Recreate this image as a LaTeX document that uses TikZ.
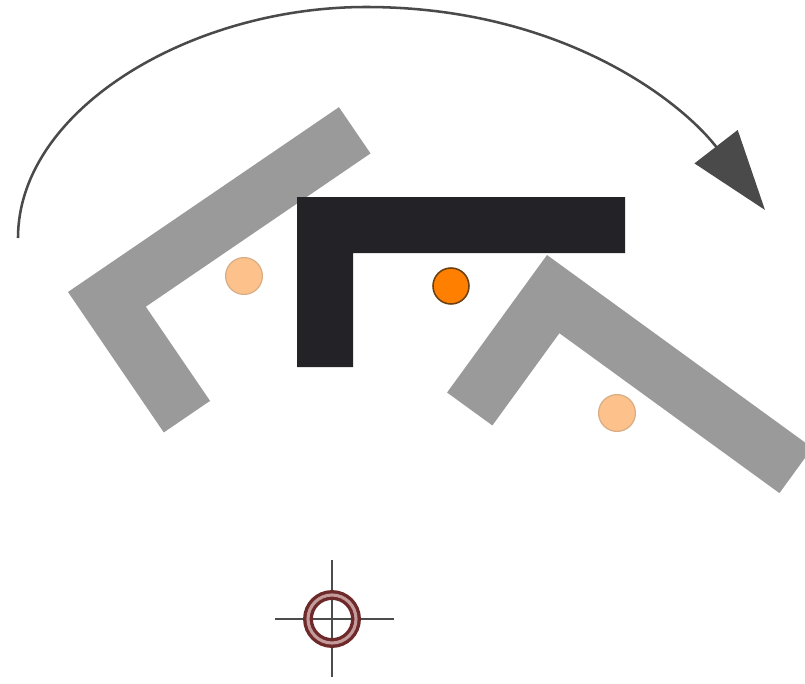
\documentclass[tikz,border=0pt]{standalone}
\usepackage{tikz}
\usetikzlibrary{arrows.meta}
\definecolor{DarkBar}{HTML}{232327}
\definecolor{GreyBar}{HTML}{9A9A9A}
\definecolor{Hot}{HTML}{FF8000}
\definecolor{HotRim}{HTML}{6B4010}
\definecolor{Pale}{HTML}{FDC28C}
\definecolor{PaleRim}{HTML}{D9AE86}
\definecolor{Swing}{HTML}{4A4A4A}
\definecolor{Ring}{HTML}{6E2A2A}
\definecolor{RingIn}{HTML}{C59A9A}
\tikzset{
    lbar/.pic={\fill[#1] (0,0) -- (328,0) -- (328,56) -- (56,56) -- (56,170) -- (0,170) -- cycle;},
    hotspot/.style={circle, draw=HotRim, fill=Hot, line width=1.1pt, minimum size=0.9cm, inner sep=0pt},
    ghost/.style={circle, draw=PaleRim, fill=Pale, line width=0.9pt, minimum size=0.92cm, inner sep=0pt},
    swing/.style={draw=Swing, line width=1.8pt, -{Triangle[length=2cm, width=1.35cm]}},
    target/.style={circle, draw=Ring, double=RingIn, double distance=2.2pt, line width=2.4pt, minimum size=1.2cm, inner sep=0pt},
    hair/.style={draw=black!70, line width=1.1pt},
}
\begin{document}
\begin{tikzpicture}[x=0.025cm, y=-0.025cm]
    \useasboundingbox (0,0) rectangle (805,684);
    \clip (0,0) rectangle (805,684);

    % rotation arrow
    \coordinate (swA) at (18,238);
    \coordinate (swTop) at (366,7);
    \coordinate (swB) at (765,210);
    \draw[swing] (swA) .. controls (18,110) and (190,7) .. (swTop)
        .. controls (560,7) and (680,100) .. (swB);

    % rotated copies
    \pic[rotate=34.3] at (68,292) {lbar=GreyBar};
    \pic[rotate=-36] at (547,255) {lbar=GreyBar};

    % original
    \pic at (297,197) {lbar=DarkBar};

    % points
    \node[ghost] (ptL) at (244,276) {};
    \node[hotspot] (ptC) at (451,286) {};
    \node[ghost] (ptR) at (617,413) {};

    % pivot
    \coordinate (hL) at (275,619);
    \coordinate (hR) at (394,619);
    \coordinate (vT) at (332,560);
    \coordinate (vB) at (332,677);
    \draw[hair] (hL) -- (hR);
    \draw[hair] (vT) -- (vB);
    \node[target] (piv) at (332,619) {};
\end{tikzpicture}
\end{document}
